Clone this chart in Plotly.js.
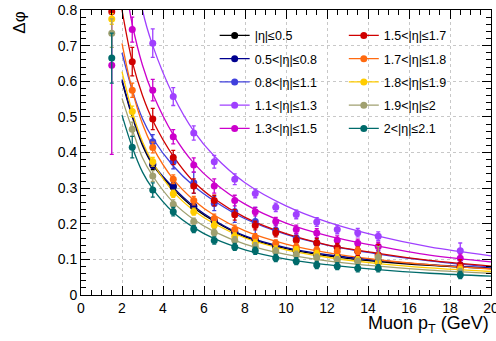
<!DOCTYPE html>
<html>
<head>
<meta charset="utf-8">
<script src="https://cdn.plot.ly/plotly-3.0.1.min.js"></script>
<style>
  html, body { margin: 0; padding: 0; background: #ffffff; }
  #plot { width: 496px; height: 341px; }
</style>
</head>
<body>
<div id="plot"></div>
<script>
// |eta| bins, in legend order
const etaNames = ['|η|≤0.5', '0.5<|η|≤0.8', '0.8<|η|≤1.1', '1.1<|η|≤1.3', '1.3<|η|≤1.5',
                  '1.5<|η|≤1.7', '1.7<|η|≤1.8', '1.8<|η|≤1.9', '1.9<|η|≤2', '2<|η|≤2.1'];
const etaColors = ['#000000', '#00008f', '#4040dd', '#a040ff', '#cc00cc',
                   '#d00000', '#ff6a10', '#ffcc00', '#a0a070', '#006b6b'];

// muon pT bin centres (GeV)
const ptX = [1.5, 2.5, 3.5, 4.5, 5.5, 6.5, 7.5, 8.5, 9.5, 10.5, 11.5, 12.5, 13.5, 14.5, 18.5];

// measured delta-phi per eta bin
const dphiEta00 = [null, null, 0.365, 0.303, 0.247, 0.207, 0.175, 0.152, 0.135, 0.123, 0.113, 0.105, 0.098, 0.092, 0.077];
const dphiEta05 = [null, null, 0.368, 0.306, 0.250, 0.210, 0.178, 0.155, 0.138, 0.126, 0.116, 0.108, 0.101, 0.095, 0.079];
const dphiEta08 = [null, null, 0.430, 0.374, 0.315, 0.257, 0.234, 0.206, 0.182, 0.160, 0.145, 0.133, 0.123, 0.113, 0.085];
const dphiEta11 = [null, null, 0.707, 0.557, 0.455, 0.374, 0.325, 0.285, 0.246, 0.226, 0.205, 0.184, 0.175, 0.165, 0.124];
const dphiEta13 = [0.645, 0.745, 0.575, 0.444, 0.365, 0.306, 0.265, 0.234, 0.206, 0.184, 0.174, 0.154, 0.145, 0.136, 0.103];
const dphiEta15 = [0.795, 0.655, 0.494, 0.386, 0.306, 0.265, 0.225, 0.195, 0.175, 0.154, 0.147, 0.133, 0.123, 0.112, 0.084];
const dphiEta17 = [null, 0.575, 0.414, 0.325, 0.265, 0.215, 0.184, 0.162, 0.145, 0.135, 0.126, 0.122, 0.124, 0.108, 0.075];
const dphiEta18 = [0.775, 0.515, 0.374, 0.284, 0.234, 0.196, 0.164, 0.145, 0.128, 0.126, 0.115, 0.103, 0.098, 0.092, 0.070];
const dphiEta19 = [0.735, 0.465, 0.334, 0.255, 0.206, 0.175, 0.154, 0.137, 0.122, 0.113, 0.105, 0.098, 0.093, 0.106, 0.065];
const dphiEta20 = [0.665, 0.415, 0.295, 0.234, 0.185, 0.153, 0.135, 0.124, 0.104, 0.095, 0.084, 0.081, 0.075, 0.075, 0.056];

// statistical uncertainties
const errEta00 = [0, 0, 0.012, 0.010, 0.010, 0.008, 0.008, 0.008, 0.008, 0.008, 0.008, 0.008, 0.008, 0.008, 0.008];
const errEta05 = [0, 0, 0.012, 0.010, 0.010, 0.008, 0.008, 0.008, 0.008, 0.008, 0.008, 0.008, 0.008, 0.008, 0.008];
const errEta08 = [0, 0, 0.020, 0.020, 0.030, 0.020, 0.030, 0.040, 0.015, 0.012, 0.012, 0.012, 0.012, 0.012, 0.012];
const errEta11 = [0, 0, 0.040, 0.025, 0.020, 0.018, 0.015, 0.012, 0.012, 0.012, 0.012, 0.012, 0.012, 0.012, 0.022];
const errEta13 = [0.250, 0.035, 0.030, 0.020, 0.020, 0.020, 0.015, 0.012, 0.012, 0.012, 0.012, 0.012, 0.012, 0.012, 0.012];
const errEta15 = [0.020, 0.040, 0.030, 0.020, 0.020, 0.015, 0.015, 0.012, 0.012, 0.012, 0.012, 0.012, 0.012, 0.030, 0.015];
const errEta17 = [0, 0.020, 0.015, 0.012, 0.012, 0.012, 0.012, 0.010, 0.010, 0.010, 0.010, 0.010, 0.010, 0.010, 0.010];
const errEta18 = [0.015, 0.015, 0.012, 0.010, 0.010, 0.010, 0.010, 0.010, 0.010, 0.010, 0.010, 0.010, 0.010, 0.010, 0.010];
const errEta19 = [0.040, 0.020, 0.015, 0.012, 0.010, 0.010, 0.010, 0.010, 0.010, 0.010, 0.010, 0.010, 0.010, 0.030, 0.010];
const errEta20 = [0.070, 0.030, 0.020, 0.012, 0.010, 0.010, 0.010, 0.010, 0.010, 0.010, 0.010, 0.010, 0.010, 0.010, 0.010];

// fitted curves, sampled along pT
const fitX = [2, 2.5, 3, 3.5, 4.5, 5.5, 6.5, 8, 10, 12, 14.5, 17, 20];
const fitEta00 = [0.600, 0.500, 0.420, 0.365, 0.298, 0.245, 0.207, 0.163, 0.130, 0.110, 0.094, 0.083, 0.074];
const fitEta05 = [0.605, 0.505, 0.425, 0.369, 0.302, 0.249, 0.210, 0.166, 0.133, 0.113, 0.097, 0.085, 0.076];
const fitEta08 = [0.680, 0.575, 0.495, 0.440, 0.362, 0.306, 0.264, 0.214, 0.170, 0.140, 0.115, 0.096, 0.079];
const fitEta11 = [null, 1.000, 0.800, 0.700, 0.560, 0.460, 0.390, 0.315, 0.250, 0.205, 0.165, 0.135, 0.110];
const fitEta13 = [0.930, 0.760, 0.645, 0.565, 0.450, 0.370, 0.315, 0.255, 0.202, 0.167, 0.137, 0.112, 0.093];
const fitEta15 = [0.800, 0.655, 0.560, 0.490, 0.390, 0.318, 0.270, 0.218, 0.172, 0.141, 0.117, 0.097, 0.081];
const fitEta17 = [0.706, 0.575, 0.480, 0.415, 0.325, 0.266, 0.224, 0.180, 0.143, 0.119, 0.099, 0.085, 0.073];
const fitEta18 = [0.627, 0.515, 0.430, 0.372, 0.290, 0.237, 0.200, 0.160, 0.127, 0.106, 0.088, 0.076, 0.066];
const fitEta19 = [0.552, 0.465, 0.385, 0.334, 0.260, 0.212, 0.178, 0.143, 0.114, 0.096, 0.081, 0.070, 0.061];
const fitEta20 = [0.505, 0.415, 0.345, 0.298, 0.232, 0.189, 0.158, 0.127, 0.101, 0.085, 0.071, 0.061, 0.053];

const xTickVals = [0, 2, 4, 6, 8, 10, 12, 14, 16, 18, 20];
const yTickVals = [0, 0.1, 0.2, 0.3, 0.4, 0.5, 0.6, 0.7, 0.8];

const dphiSets = [dphiEta00, dphiEta05, dphiEta08, dphiEta11, dphiEta13, dphiEta15, dphiEta17, dphiEta18, dphiEta19, dphiEta20];
const errSets  = [errEta00, errEta05, errEta08, errEta11, errEta13, errEta15, errEta17, errEta18, errEta19, errEta20];
const fitSets  = [fitEta00, fitEta05, fitEta08, fitEta11, fitEta13, fitEta15, fitEta17, fitEta18, fitEta19, fitEta20];

const FONT = 'Liberation Sans, Arial, Helvetica, sans-serif';
const traces = [];

// fit curves underneath
fitSets.forEach((f, i) => {
  traces.push({
    type: 'scatter', mode: 'lines', x: fitX, y: f,
    line: { color: etaColors[i], width: 1.3, shape: 'spline', smoothing: 1 },
    showlegend: false, hoverinfo: 'skip'
  });
});

// measured points with error bars
dphiSets.forEach((d, i) => {
  traces.push({
    type: 'scatter', mode: 'markers', x: ptX, y: d,
    marker: { color: etaColors[i], size: 7, symbol: 'circle' },
    error_y: { type: 'data', array: errSets[i], visible: true, color: etaColors[i], thickness: 1.3, width: 2 },
    showlegend: false
  });
});

// legend entries (line + marker), two columns
etaNames.forEach((name, i) => {
  traces.push({
    type: 'scatter', mode: 'lines+markers', x: [null], y: [null],
    name: name,
    line: { color: etaColors[i], width: 1.3 },
    marker: { color: etaColors[i], size: 7 },
    legend: i < 5 ? 'legend' : 'legend2',
    legendgroup: 'g' + i,
    showlegend: true
  });
});

const legendCommon = {
  bgcolor: 'rgba(0,0,0,0)', borderwidth: 0,
  font: { family: FONT, size: 12.5, color: '#000' },
  tracegroupgap: 4, xanchor: 'left', yanchor: 'top', itemclick: false
};

const axisCommon = {
  ticks: 'inside', tickcolor: '#000', tickwidth: 1, ticklen: 9,
  showline: true, linecolor: '#000', linewidth: 1, mirror: 'ticks',
  showgrid: true, gridcolor: '#c8c8c8', griddash: 'dot', gridwidth: 1,
  zeroline: false, ticklabeloverflow: 'allow',
  tickfont: { family: FONT, size: 14, color: '#000' }
};

const layout = {
  width: 496, height: 341,
  margin: { l: 81, r: 5, t: 10, b: 46 },
  paper_bgcolor: '#ffffff', plot_bgcolor: '#ffffff',
  xaxis: Object.assign({}, axisCommon, {
    range: [0, 20], tickmode: 'array', tickvals: xTickVals,
    minor: { dtick: 0.5, tick0: 0, ticks: 'inside', ticklen: 5, tickcolor: '#000', showgrid: false }
  }),
  yaxis: Object.assign({}, axisCommon, {
    range: [0, 0.8], tickmode: 'array', tickvals: yTickVals,
    minor: { dtick: 0.02, tick0: 0, ticks: 'inside', ticklen: 5, tickcolor: '#000', showgrid: false }
  }),
  legend: Object.assign({}, legendCommon, { x: 0.326, y: 0.962 }),
  legend2: Object.assign({}, legendCommon, { x: 0.641, y: 0.962 }),
  annotations: [
    { text: 'Muon p<sub>T</sub> (GeV)', xref: 'paper', yref: 'paper', x: 1, y: -0.104,
      xanchor: 'right', yanchor: 'middle', showarrow: false,
      font: { family: FONT, size: 18, color: '#000' } },
    { text: 'Δφ', xref: 'paper', yref: 'paper', x: -0.152, y: 1,
      xanchor: 'center', yanchor: 'top', textangle: -90, showarrow: false,
      font: { family: FONT, size: 17, color: '#000' } }
  ],
  showlegend: true
};

Plotly.newPlot('plot', traces, layout, { staticPlot: true, displayModeBar: false });
</script>
</body>
</html>
